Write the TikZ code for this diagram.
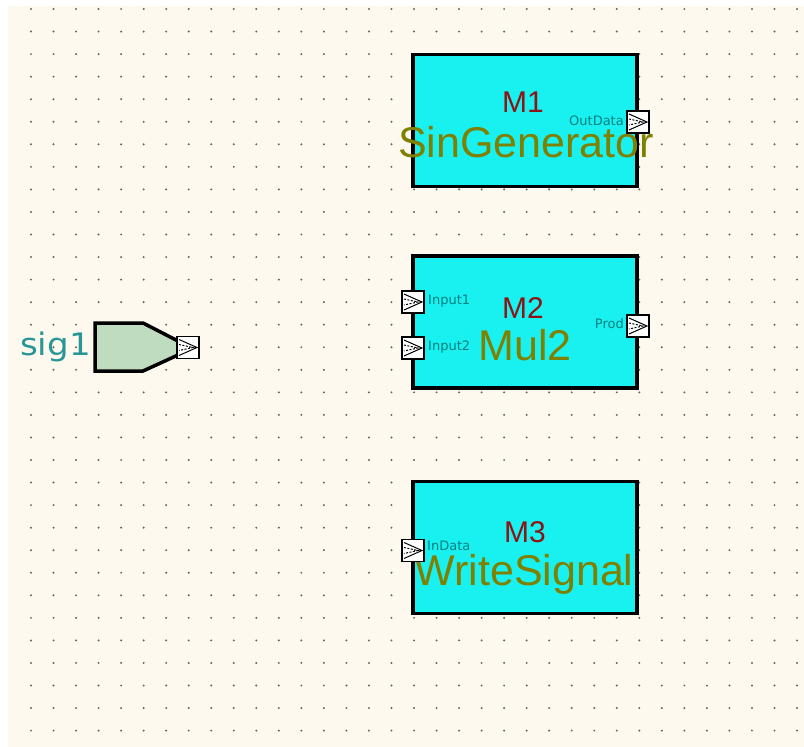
\documentclass[tikz,border=0pt]{standalone}
\usepackage{fontspec}
\setmainfont{Liberation Sans}
\newfontfamily\dvfont{DejaVu Sans}
\definecolor{bgcream}{RGB}{253,249,238}
\definecolor{dotgray}{RGB}{100,100,100}
\definecolor{modcyan}{RGB}{25,240,240}
\definecolor{nameolive}{RGB}{128,128,0}
\definecolor{labred}{RGB}{140,20,20}
\definecolor{portteal}{RGB}{0,128,128}
\definecolor{sigteal}{RGB}{40,150,150}
\definecolor{siggreen}{RGB}{192,220,192}
\tikzset{
  modbox/.style={draw=black, line width=3.3pt, fill=modcyan, minimum width=224pt, minimum height=132pt, inner sep=0pt},
  modlabel/.style={text=labred, font=\fontsize{30}{30}\selectfont, anchor=base, inner sep=0pt},
  modname/.style={text=nameolive, font=\fontsize{43}{43}\selectfont, anchor=base, inner sep=0pt},
  portlabel/.style={text=portteal, font=\dvfont\fontsize{13}{13}\selectfont, inner sep=0pt},
  portbox/.style={draw=black, line width=1.8pt, fill=white, minimum width=22pt, minimum height=22pt, inner sep=0pt,
    path picture={
      \draw[line width=1pt] ([shift={(2pt,-3pt)}]path picture bounding box.north west) -- ([shift={(-2pt,0pt)}]path picture bounding box.east) -- ([shift={(2pt,3pt)}]path picture bounding box.south west);
      \draw[line width=1pt, dash pattern=on 2pt off 1.5pt] ([shift={(2pt,-8pt)}]path picture bounding box.north west) -- ([shift={(-6pt,0pt)}]path picture bounding box.east) -- ([shift={(2pt,8pt)}]path picture bounding box.south west);
    }},
}
\begin{document}
\begin{tikzpicture}[x=1pt,y=-1pt]
\useasboundingbox (0,0) rectangle (804,747);
\fill[white] (0,0) rectangle (804,747);
\fill[bgcream] (8,6) rectangle (804,747);
% grid dots
\foreach \i in {0,...,34}{
  \foreach \j in {0,...,32}{
    \fill[dotgray] ({31+22.53*\i},{9+22.55*\j}) circle (1.1pt);
  }
}
% modules
\node[modbox] (m1) at (525,120.5) {};
\node[modbox] (m2) at (525,322) {};
\node[modbox] (m3) at (525,547.5) {};
\node[modlabel] (m1lab) at (523,112) {M1};
\node[modlabel] (m2lab) at (523,318) {M2};
\node[modlabel] (m3lab) at (525,542) {M3};
\node[modname] (m1name) at (526,157) {SinGenerator};
\node[modname] (m2name) at (525,360) {Mul2};
\node[modname] (m3name) at (524,585) {WriteSignal};
% ports
\node[portbox] (m1out) at (638,122) {};
\node[portbox] (m2in1) at (413,302) {};
\node[portbox] (m2in2) at (413,348) {};
\node[portbox] (m2out) at (638,326) {};
\node[portbox] (m3in) at (413,550.5) {};
\node[portlabel, anchor=east] (m1outlab) at (624,121) {OutData};
\node[portlabel, anchor=west] (m2in1lab) at (428,301) {Input1};
\node[portlabel, anchor=west] (m2in2lab) at (428,347) {Input2};
\node[portlabel, anchor=east] (m2outlab) at (624,324) {Prod};
\node[portlabel, anchor=west] (m3inlab) at (427,546) {InData};
% sig1
\draw[line width=3.5pt, fill=siggreen, line join=miter] (95,323) -- (143,323) -- (178,341) -- (178,355) -- (143,371) -- (95,371) -- cycle;
\node[portbox] (sigport) at (188,347.5) {};
\node[text=sigteal, font=\dvfont\fontsize{31}{31}\selectfont, anchor=base east, inner sep=0pt, xscale=1.1] (siglab) at (91,355) {sig1};
\end{tikzpicture}
\end{document}
